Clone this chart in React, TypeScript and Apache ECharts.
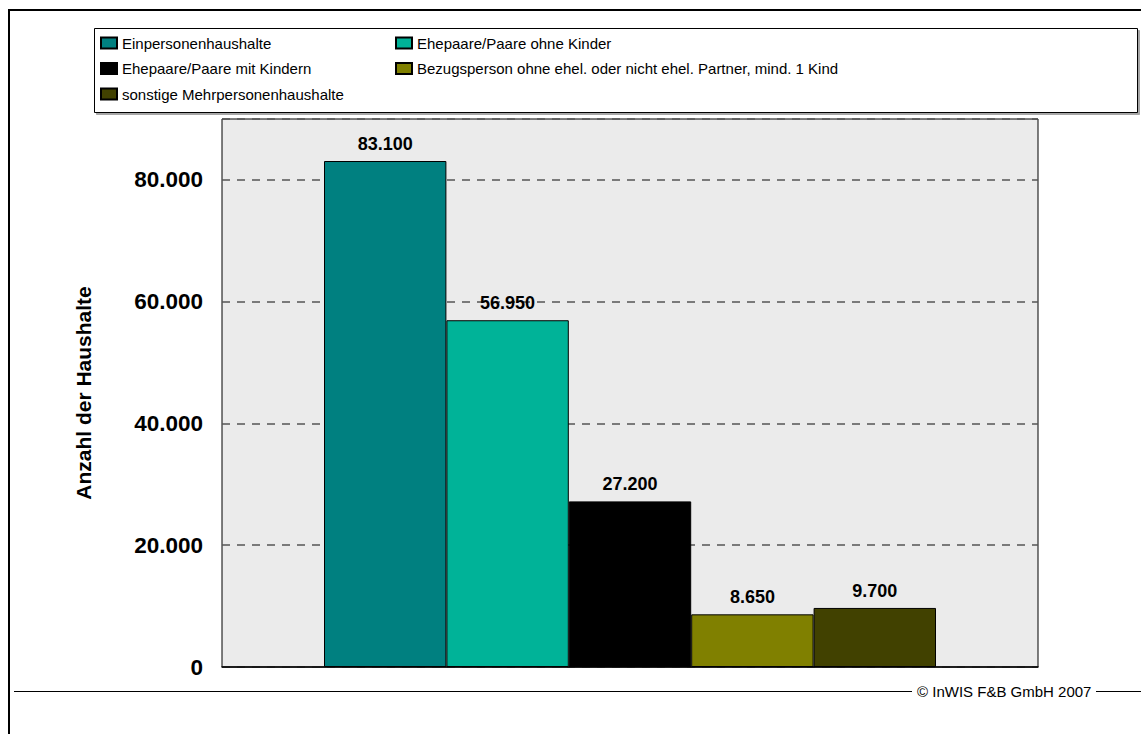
import React, { useEffect, useRef } from "react";
import * as echarts from "echarts";

const categories = [""];
const seriesNames = [
  "Einpersonenhaushalte",
  "Ehepaare/Paare ohne Kinder",
  "Ehepaare/Paare mit Kindern",
  "Bezugsperson ohne ehel. oder nicht ehel. Partner, mind. 1 Kind",
  "sonstige Mehrpersonenhaushalte",
];
const seriesValues = [83100, 56950, 27200, 8650, 9700];
const seriesColors = ["#008080", "#00B398", "#000000", "#808000", "#414100"];
const legendCol1 = [seriesNames[0], seriesNames[2], seriesNames[4]];
const legendCol2 = [seriesNames[1], seriesNames[3]];
const yAxisName = "Anzahl der Haushalte";
const footerText = "© InWIS F&B GmbH 2007";

const FONT = "Arial, 'Liberation Sans', Helvetica, sans-serif";
const fmt = (v: number) => String(v).replace(/\B(?=(\d{3})+(?!\d))/g, ".");

export default function App() {
  const ref = useRef<HTMLDivElement>(null);
  useEffect(() => {
    document.body.style.margin = "0";
    if (!ref.current) return;
    const chart = echarts.init(ref.current, null, { renderer: "svg" });
    const legendBase = {
      orient: "vertical",
      top: 35.5,
      padding: 0,
      itemWidth: 16,
      itemHeight: 11,
      itemGap: 10.5,
      icon: "rect",
      selectedMode: false,
      textStyle: { fontFamily: FONT, fontSize: 15, color: "#000", lineHeight: 15 },
    };
    chart.setOption({
      animation: false,
      backgroundColor: "#ffffff",
      textStyle: { fontFamily: FONT },
      legend: [
        { ...legendBase, left: 100, data: legendCol1 },
        { ...legendBase, left: 395, data: legendCol2 },
      ],
      grid: {
        left: 222,
        top: 119,
        width: 816,
        height: 548,
        show: true,
        backgroundColor: "#ebebeb",
        borderColor: "#000",
        borderWidth: 1,
        containLabel: false,
      },
      xAxis: {
        type: "category",
        data: categories,
        axisLine: { show: true, lineStyle: { color: "#000", width: 1.5 } },
        axisTick: { show: false },
        axisLabel: { show: false },
      },
      yAxis: {
        type: "value",
        min: 0,
        max: 90000,
        interval: 20000,
        name: yAxisName,
        nameLocation: "middle",
        nameRotate: 90,
        nameGap: 128,
        nameTextStyle: { fontFamily: FONT, fontSize: 21, fontWeight: "bold", color: "#000" },
        axisLine: { show: false },
        axisTick: { show: false },
        axisLabel: {
          showMaxLabel: false,
          margin: 19,
          fontFamily: FONT,
          fontSize: 22.5,
          fontWeight: "bold",
          color: "#000",
          formatter: (v: number) => fmt(v),
        },
        splitLine: { show: true, lineStyle: { color: "#555", width: 1.5, type: [8, 7] } },
      },
      series: seriesNames.map((name, i) => ({
        name,
        type: "bar",
        barWidth: "15%",
        barGap: "0%",
        data: [seriesValues[i]],
        itemStyle: { color: seriesColors[i], borderColor: "#000", borderWidth: 1 },
        label: {
          show: true,
          position: "top",
          distance: 8,
          fontFamily: FONT,
          fontSize: 18,
          fontWeight: "bold",
          color: "#000",
          formatter: (p: any) => fmt(p.value),
        },
      })),
      graphic: [
        {
          type: "rect",
          silent: true,
          z: -10,
          shape: { x: 9, y: 10, width: 1300, height: 1000 },
          style: { fill: "none", stroke: "#000", lineWidth: 2 },
        },
        {
          type: "rect",
          silent: true,
          z: -10,
          shape: { x: 94.5, y: 28.5, width: 1043, height: 84 },
          style: { fill: "#fff", stroke: "#000", lineWidth: 1, shadowColor: "rgba(0,0,0,0.35)", shadowOffsetX: 2, shadowOffsetY: 2, shadowBlur: 0 },
        },
        {
          type: "line",
          silent: true,
          shape: { x1: 14, y1: 691.5, x2: 912, y2: 691.5 },
          style: { stroke: "#000", lineWidth: 1 },
        },
        {
          type: "line",
          silent: true,
          shape: { x1: 1096, y1: 691.5, x2: 1141, y2: 691.5 },
          style: { stroke: "#000", lineWidth: 1 },
        },
        {
          type: "text",
          silent: true,
          x: 917,
          y: 691,
          style: {
            text: footerText,
            fontFamily: FONT,
            fontSize: 15,
            fill: "#000",
            textVerticalAlign: "middle",
            verticalAlign: "middle",
          },
        },
      ],
    });
    return () => chart.dispose();
  }, []);
  return <div ref={ref} style={{ width: 1141, height: 734 }} />;
}
